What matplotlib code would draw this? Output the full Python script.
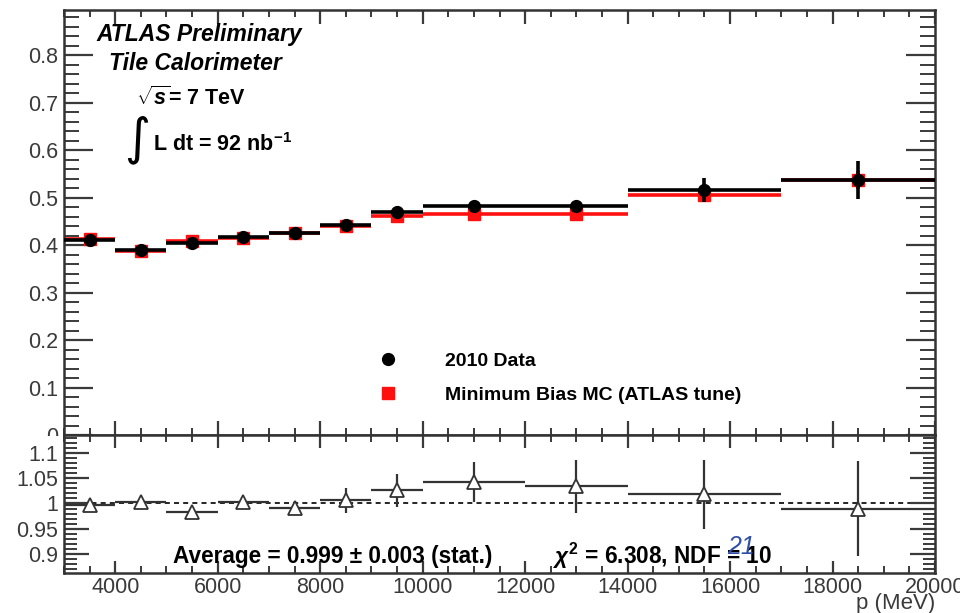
#importing required libraries
import numpy as np
import matplotlib
matplotlib.use('Agg')
import matplotlib.pyplot as plt
from matplotlib.lines import Line2D
from matplotlib.transforms import Bbox
from matplotlib.ticker import MultipleLocator, FixedLocator, FuncFormatter

plt.rcParams['font.family'] = ['Liberation Sans', 'DejaVu Sans']
plt.rcParams['mathtext.fontset'] = 'custom'
plt.rcParams['mathtext.rm'] = 'Liberation Sans:bold'
plt.rcParams['mathtext.it'] = 'Liberation Sans:italic:bold'
plt.rcParams['mathtext.bf'] = 'Liberation Sans:bold'

#momentum bins (MeV)
bin_edges = np.array([3000, 4000, 5000, 6000, 7000, 8000, 9000, 10000, 12000, 14000, 17000, 20000])

#top panel values
data_vals = [0.410, 0.390, 0.404, 0.417, 0.425, 0.442, 0.469, 0.482, 0.483, 0.516, 0.537]
data_errs = [0.005, 0.005, 0.005, 0.005, 0.005, 0.006, 0.007, 0.009, 0.010, 0.026, 0.039]
mc_vals = [0.412, 0.388, 0.408, 0.415, 0.426, 0.440, 0.461, 0.465, 0.465, 0.505, 0.537]
mc_errs = [0.004, 0.004, 0.004, 0.004, 0.004, 0.004, 0.005, 0.006, 0.012, 0.015, 0.020]

#ratio panel
ratio_vals = [0.998, 1.002, 0.984, 1.002, 0.992, 1.006, 1.026, 1.042, 1.034, 1.018, 0.990]
ratio_errs = [0.006, 0.006, 0.008, 0.007, 0.012, 0.025, 0.033, 0.040, 0.053, 0.068, 0.095]

legend_labels = ['2010 Data', 'Minimum Bias MC (ATLAS tune)']

centres = (bin_edges[1:] + bin_edges[:-1]) / 2
half_w = np.diff(bin_edges) / 2

W, H = 960, 613
fig = plt.figure(figsize=(9.6, 6.13), dpi=100)
ax1 = fig.add_axes([64 / W, 1 - 435 / H, 871 / W, 425 / H])
ax2 = fig.add_axes([64 / W, 1 - 573 / H, 871 / W, 138 / H])

tick_col = '#3a3a3a'
fmt = FuncFormatter(lambda v, _: f'{v:g}')

#--- top panel ---
ax1.errorbar(centres, mc_vals, xerr=half_w, yerr=mc_errs, fmt='s', color='#ff1010',
             ms=9, lw=2.6, capsize=0, zorder=2)
ax1.errorbar(centres, data_vals, xerr=half_w, yerr=data_errs, fmt='o', color='k',
             ms=8.5, lw=2.6, capsize=0, zorder=3)
ax1.set_xlim(3000, 20000)
ax1.set_ylim(0, 0.895)
ax1.yaxis.set_major_locator(FixedLocator([0, 0.1, 0.2, 0.3, 0.4, 0.5, 0.6, 0.7, 0.8]))
ax1.yaxis.set_minor_locator(MultipleLocator(0.02))
ax1.yaxis.set_major_formatter(fmt)
ax1.xaxis.set_major_locator(MultipleLocator(2000))
ax1.xaxis.set_minor_locator(MultipleLocator(500))
ax1.tick_params(which='both', direction='in', top=True, right=True, color=tick_col)
ax1.tick_params(axis='y', which='major', length=21, width=1.6, labelsize=15.5, labelcolor=tick_col, pad=4)
ax1.tick_params(axis='y', which='minor', length=11, width=1.4)
ax1.tick_params(axis='x', which='major', length=10, width=1.6, labelbottom=False)
ax1.tick_params(axis='x', which='minor', length=5, width=1.4)
for s in ax1.spines.values():
    s.set_linewidth(1.8)
    s.set_color('#333333')

#the "0" label is half hidden behind the ratio pad
zero_lab = ax1.yaxis.get_major_ticks()[0].label1
zero_lab.set_clip_box(Bbox.from_extents(0, H - 436, W, H))
zero_lab.set_clip_on(True)

handles = [Line2D([], [], marker='o', color='k', ls='none', ms=8.5),
           Line2D([], [], marker='s', color='#ff1010', ls='none', ms=9)]
ax1.legend(handles, legend_labels, loc='upper left', bbox_to_anchor=(378 / W, 1 - 352 / H),
           bbox_transform=fig.transFigure, frameon=False, prop={'weight': 'bold', 'size': 14},
           handlelength=1.0, handletextpad=2.44, labelspacing=0.85, borderpad=0, borderaxespad=0)

#labels in the top left corner
fig.text(96 / W, 1 - 34 / H, 'ATLAS Preliminary', fontsize=16.5, fontweight='bold',
         fontstyle='italic', va='center', ha='left')
fig.text(109 / W, 1 - 64 / H, 'Tile Calorimeter', fontsize=16.5, fontweight='bold',
         fontstyle='italic', va='center', ha='left')
fig.text(136 / W, 1 - 98 / H, r'$\sqrt{s}$= 7 TeV', fontsize=15.5, fontweight='bold',
         va='center', ha='left')
fig.text(124 / W, 1 - 140 / H, '\u222b', fontsize=36, va='center', ha='left',
         family='DejaVu Sans')
fig.text(153 / W, 1 - 145 / H, r'L dt = 92 nb$^{-1}$', fontsize=15.5, fontweight='bold',
         va='center', ha='left')

#--- ratio panel ---
ax2.axhline(1.0, color='k', lw=1.2, ls=(0, (3, 2.5)), zorder=1)
ax2.errorbar(centres, ratio_vals, xerr=half_w, yerr=ratio_errs, fmt='^', color='#333333',
             mfc='white', mec='#333333', mew=1.3, ms=9.5, lw=1.6, capsize=0, zorder=3)
ax2.set_xlim(3000, 20000)
ax2.set_ylim(0.862, 1.136)
ax2.yaxis.set_major_locator(FixedLocator([0.9, 0.95, 1.0, 1.05, 1.1]))
ax2.yaxis.set_minor_locator(MultipleLocator(0.01))
ax2.yaxis.set_major_formatter(fmt)
ax2.xaxis.set_major_locator(MultipleLocator(2000))
ax2.xaxis.set_minor_locator(MultipleLocator(500))
ax2.xaxis.set_major_formatter(fmt)
ax2.tick_params(which='both', direction='in', top=True, right=True, color=tick_col)
ax2.tick_params(axis='y', which='major', length=18, width=1.6, labelsize=15.5, labelcolor=tick_col, pad=4)
ax2.tick_params(axis='y', which='minor', length=9, width=1.4)
ax2.tick_params(axis='x', which='major', length=9, width=1.6, labelsize=15.5, labelcolor=tick_col, pad=3)
ax2.tick_params(axis='x', which='minor', length=5, width=1.4)
for s in ax2.spines.values():
    s.set_linewidth(1.8)
    s.set_color('#333333')
ax2.set_xlabel('p (MeV)', loc='right', fontsize=16, color=tick_col, labelpad=-4)

ax2.text(173 / W, 1 - 556 / H, 'Average = 0.999 \u00b1 0.003 (stat.)', transform=fig.transFigure,
         fontsize=16.3, fontweight='bold', va='center', ha='left')
ax2.text(553 / W, 1 - 556 / H, r'$\chi^2$ = 6.308, NDF = 10', transform=fig.transFigure,
         fontsize=16.3, fontweight='bold', va='center', ha='left')
#handwritten note on the original
ax2.text(727 / W, 1 - 547 / H, '21', transform=fig.transFigure, fontsize=18,
         fontstyle='italic', color='#2f4fa8', va='center', ha='left')

fig.savefig('out.png', dpi=100)
